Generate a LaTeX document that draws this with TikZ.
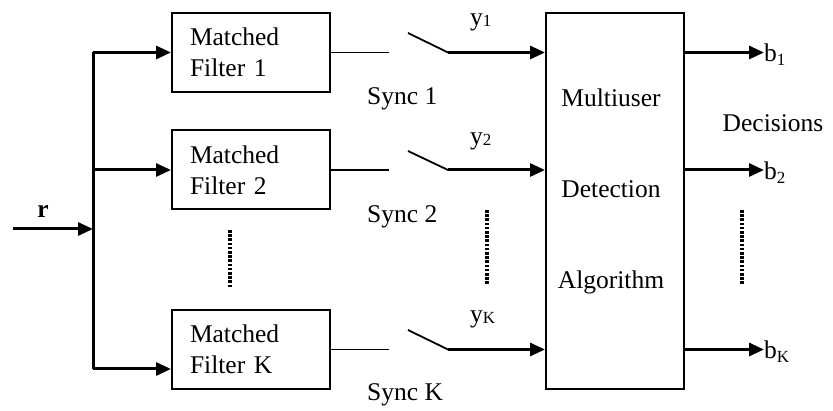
\documentclass[tikz,border=0pt]{standalone}
\usepackage{fontspec}
\setmainfont{Liberation Serif}
\usetikzlibrary{arrows.meta}
% small index that sits low (b_k) or nearly on the baseline (y_k)
\newcommand\lowidx[1]{\raisebox{-4pt}{\fontsize{17}{17}\selectfont #1}}
\newcommand\flatidx[1]{\raisebox{-0.5pt}{\fontsize{17}{17}\selectfont #1}}
\begin{document}
\begin{tikzpicture}[x=1pt,y=-1pt,
  font=\fontsize{25.5}{31}\selectfont,
  filt/.style={draw,line width=2pt,minimum width=158pt,minimum height=79pt,
    text width=122pt,inner xsep=18pt,inner ysep=0pt,align=left},
  mudbox/.style={draw,line width=2pt,minimum width=138pt,minimum height=376pt,inner sep=0pt},
  thick line/.style={line width=3pt},
  thin line/.style={line width=1.8pt},
  arr/.style={thick line,-{Triangle[length=15pt,width=13pt]}},
  dotcol/.style={line width=3.6pt,dash pattern=on 2.6pt off 1.6pt},
  lab/.style={anchor=base west,inner sep=0pt},
  clab/.style={anchor=base,inner sep=0pt},
]
\useasboundingbox (0,0) rectangle (833,411);

% matched filter bank
\node[filt] (f1) at (251,52.5) {Matched\\Filter 1};
\node[filt] (f2) at (251,170) {Matched\\Filter 2};
\node[filt] (fK) at (251,349.5) {Matched\\Filter K};

% detector block
\node[mudbox] (mud) at (615,201) {};
\node[clab] (t1) at (611,107) {Multiuser};
\node[clab] (t2) at (611,198) {Detection};
\node[clab] (t3) at (611,289) {Algorithm};

% received signal and distribution bus
\coordinate (rin) at (13,229);
\coordinate (rbus) at (93,229);
\coordinate (bt) at (93,52.5);
\coordinate (bm) at (93,170);
\coordinate (bb) at (93,369);
\node[clab] (r) at (43,218) {\bfseries r};
\draw[arr] (rin) -- (rbus);
\draw[thick line] (bt) -- (bb);
\draw[arr] (bt) -- (f1.west);
\draw[arr] (bm) -- (f2.west);
\draw[arr] (bb) -- (bb -| fK.west);

% sampling switches
\coordinate (o1) at (389,52.5);  \coordinate (w1) at (408,33);  \coordinate (p1) at (448,52.5);
\coordinate (o2) at (389,170);   \coordinate (w2) at (408,151); \coordinate (p2) at (448,170);
\coordinate (oK) at (389,349.5); \coordinate (wK) at (408,330); \coordinate (pK) at (448,349.5);
\draw[thin line] (f1.east) -- (o1);
\draw[thin line] (f2.east) -- (o2);
\draw[thin line] (fK.east) -- (oK);
\draw[thin line] (w1) -- (p1);
\draw[thin line] (w2) -- (p2);
\draw[thin line] (wK) -- (pK);
\draw[arr] (p1) -- (p1 -| mud.west);
\draw[arr] (p2) -- (p2 -| mud.west);
\draw[arr] (pK) -- (pK -| mud.west);

\node[lab] (s1) at (367,105) {Sync 1};
\node[lab] (s2) at (367,223) {Sync 2};
\node[lab] (sK) at (367,401) {Sync K};
\node[lab] (y1) at (470,26) {y\flatidx{1}};
\node[lab] (y2) at (470,145) {y\flatidx{2}};
\node[lab] (yK) at (470,323) {y\flatidx{K}};

% decisions
\node[lab] (b1) at (764,62) {b\lowidx{1}};
\node[lab] (b2) at (764,180) {b\lowidx{2}};
\node[lab] (bK) at (764,359) {b\lowidx{K}};
\draw[arr] (p1 -| mud.east) -- (p1 -| b1.west);
\draw[arr] (p2 -| mud.east) -- (p2 -| b2.west);
\draw[arr] (pK -| mud.east) -- (pK -| bK.west);
\node[clab] (dec) at (773,132) {Decisions};

% ellipsis marks
\draw[dotcol] (230,230) -- (230,288);
\draw[dotcol] (487,210) -- (487,285);
\draw[dotcol] (742,210) -- (742,285);
\end{tikzpicture}
\end{document}
